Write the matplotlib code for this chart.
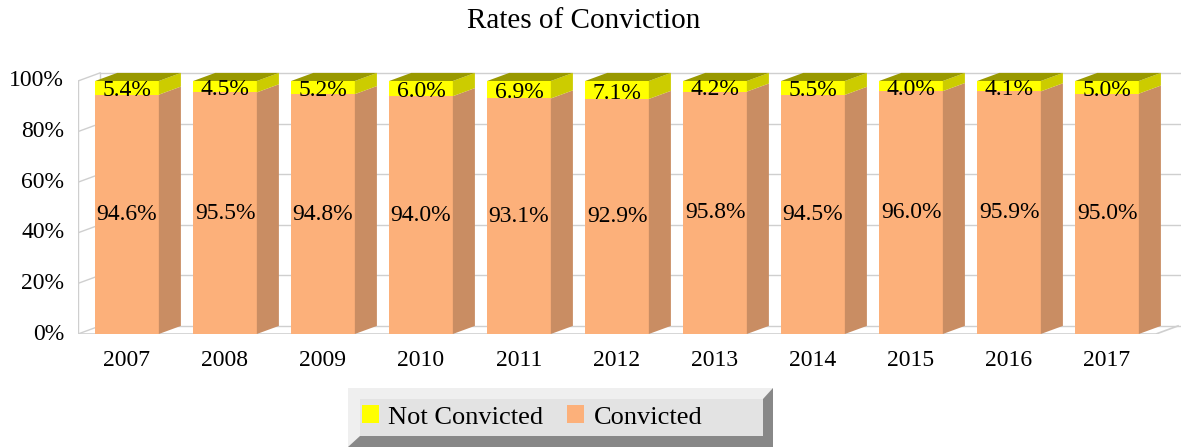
import numpy as np
import matplotlib.pyplot as plt
from matplotlib.patches import Polygon, Patch

years = ['2007', '2008', '2009', '2010', '2011', '2012', '2013', '2014', '2015', '2016', '2017']
convicted = [94.6, 95.5, 94.8, 94.0, 93.1, 92.9, 95.8, 94.5, 96.0, 95.9, 95.0]
not_convicted = [5.4, 4.5, 5.2, 6.0, 6.9, 7.1, 4.2, 5.5, 4.0, 4.1, 5.0]
yticks = [0, 20, 40, 60, 80, 100]

plt.rcParams['font.family'] = ['Liberation Serif', 'DejaVu Serif']

W, H = 1181, 447
fig = plt.figure(figsize=(W / 100, H / 100), dpi=100)

dx, dy = 0.225, 3.2      # depth offset (x units, percent)
bw = 0.65                # bar width
px_x, px_y = 98.0, 2.53  # pixels per unit

x0_px, y0_px = 78, H - 334
xmax = 10.5 + 0.25
ymax = 104.5
ax = fig.add_axes([x0_px / W, y0_px / H, (xmax + 0.5) * px_x / W, ymax * px_y / H])
ax.set_xlim(-0.5, xmax)
ax.set_ylim(0, ymax)
ax.axis('off')

grid_c = '#cfcfcf'
# back wall grid, left wall, floor
for v in yticks:
    ax.plot([-0.5 + dx, xmax], [v + dy, v + dy], color=grid_c, lw=1, zorder=1)
    ax.plot([-0.5, -0.5 + dx], [v, v + dy], color=grid_c, lw=1, zorder=1)
ax.plot([-0.5, -0.5], [0, 100], color=grid_c, lw=1, zorder=1)
ax.plot([-0.5 + dx, -0.5 + dx], [dy, 100 + dy], color=grid_c, lw=1, zorder=1)
ax.plot([-0.5, 10.5, 10.5 + dx], [0, 0, dy], color=grid_c, lw=1.2, zorder=1)

orange, orange_side = '#FCB07A', '#C98D63'
yellow, yellow_side, yellow_top = '#FFFF00', '#CCCC00', '#999900'


def box(x, y0, y1, front, side, top=None):
    l, r = x - bw / 2, x + bw / 2
    ax.add_patch(Polygon([(l, y0), (r, y0), (r, y1), (l, y1)], closed=True,
                         fc=front, ec='none', zorder=3))
    ax.add_patch(Polygon([(r, y0), (r + dx, y0 + dy), (r + dx, y1 + dy), (r, y1)],
                         closed=True, fc=side, ec='none', zorder=3))
    if top:
        ax.add_patch(Polygon([(l, y1), (r, y1), (r + dx, y1 + dy), (l + dx, y1 + dy)],
                             closed=True, fc=top, ec='none', zorder=3))


fs = 17
for i, (c, n) in enumerate(zip(convicted, not_convicted)):
    box(i, 0, c, orange, orange_side)
    box(i, c, c + n, yellow, yellow_side, yellow_top)
    ax.text(i, c / 2, f'{c:.1f}%', ha='center', va='center', fontsize=fs, zorder=5)
    ax.text(i, c + n / 2 - 1.2, f'{n:.1f}%', ha='center', va='center', fontsize=fs, zorder=5)
    ax.text(i, -10.5, years[i], ha='center', va='center', fontsize=fs)

for v in yticks:
    ax.text(-0.64, v, f'{v}%', ha='right', va='center', fontsize=fs)

fig.text(584 / W, 1 - 21 / H, 'Rates of Conviction', ha='center', va='center', fontsize=21)

# bevelled legend box
def fpoly(pts, color):
    fig.patches.append(Polygon([(x / W, 1 - y / H) for x, y in pts], closed=True,
                               fc=color, ec='none', transform=fig.transFigure))

L, R, T, B = 348, 773, 388, 447
iL, iR, iT, iB = 360, 763, 399, 436
fpoly([(L, T), (R, T), (R, B), (L, B)], '#efefef')
fpoly([(iR, iT), (R, T), (R, B), (L, B), (iL, iB), (iR, iB)], '#888888')
fpoly([(iL, iT), (iR, iT), (iR, iB), (iL, iB)], '#e3e3e3')

handles = [Patch(fc=yellow, ec='none', label='Not Convicted'),
           Patch(fc=orange, ec='none', label='Convicted')]
fig.legend(handles=handles, loc='center', bbox_to_anchor=(532 / W, 1 - 417 / H),
           ncol=2, frameon=False, fontsize=19, handlelength=0.65, handleheight=0.65,
           handletextpad=0.35, columnspacing=0.9)

fig.savefig('out.png', dpi=100)
